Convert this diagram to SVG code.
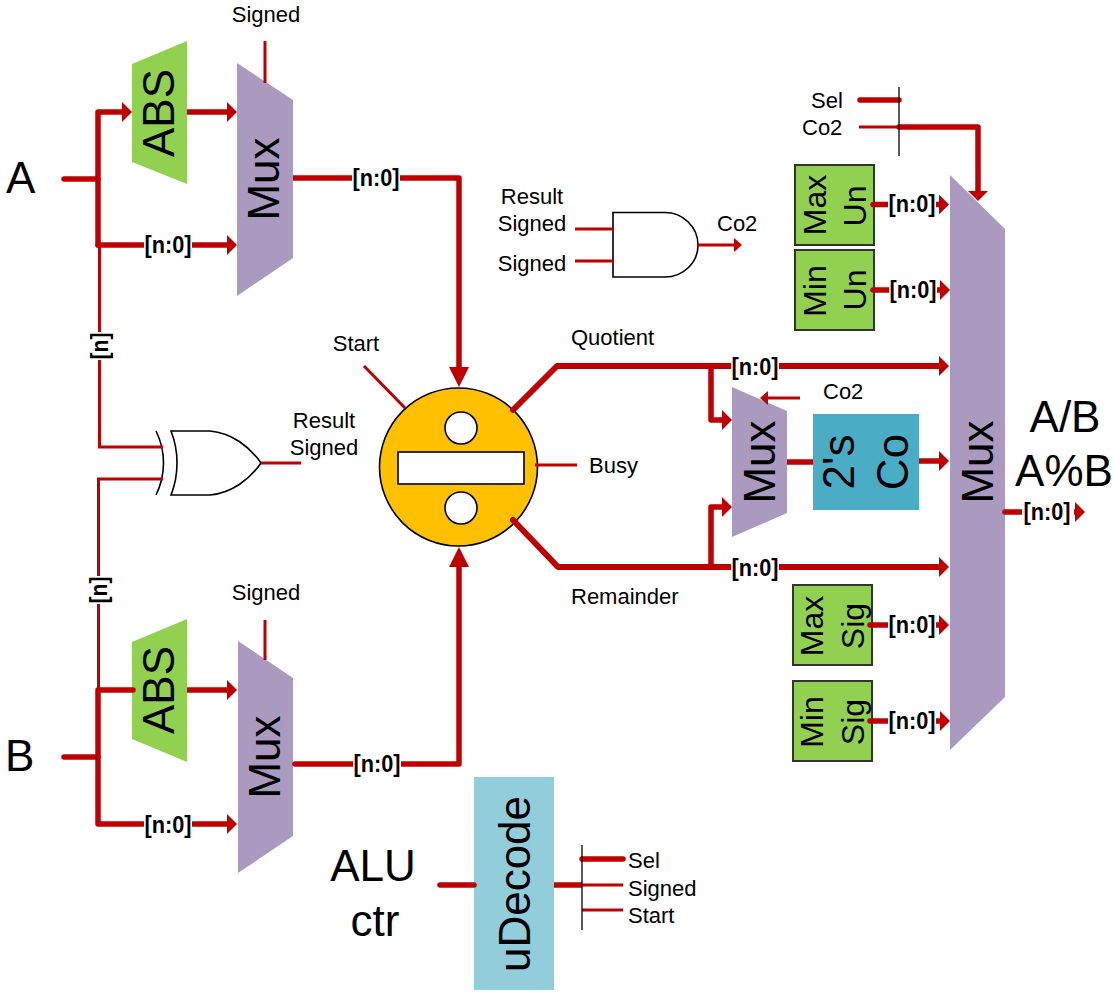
<svg xmlns="http://www.w3.org/2000/svg" width="1113" height="992" viewBox="0 0 1113 992">
<style>
text{font-family:"Liberation Sans",Arial,sans-serif;fill:#000}
.s{font-size:22px}.b{font-size:44px}.c{font-size:32px}
.mid{text-anchor:middle}
.l{font-size:23px;font-weight:bold;text-anchor:middle}
.w{fill:#fff}
.mux{fill:#AB9AC0}.abs{fill:#92D14F}.box{fill:#92D050;stroke:#333;stroke-width:2}
.gate{fill:#fff;stroke:#000;stroke-width:1.6}
.t5{fill:none;stroke:#C00000;stroke-width:5.500;stroke-linejoin:round;stroke-linecap:round}
.t6{fill:none;stroke:#C00000;stroke-width:6;stroke-linejoin:round;stroke-linecap:round}
.t3{fill:none;stroke:#C00000;stroke-width:3;stroke-linejoin:miter}
.bar{fill:none;stroke:#000;stroke-width:1.3}
</style>
<defs>
<marker id="big" markerUnits="userSpaceOnUse" markerWidth="11" markerHeight="20" refX="3" refY="10" orient="auto"><path d="M0,0L10,10L0,20Z" fill="#C00000"/></marker>
<marker id="long" markerUnits="userSpaceOnUse" markerWidth="21" markerHeight="20" refX="3" refY="10" orient="auto"><path d="M0,0L20,10L0,20Z" fill="#C00000"/></marker>
<marker id="small" markerUnits="userSpaceOnUse" markerWidth="9" markerHeight="14" refX="3" refY="7" orient="auto"><path d="M0,0L8,7L0,14Z" fill="#C00000"/></marker>
</defs>

<g id="node-abs-a"><polygon class="abs" points="132,64 187,41 187,184 132,162"/><text class="b mid" transform="translate(174,113) rotate(-90)">ABS</text></g>
<g id="node-mux-a"><polygon class="mux" points="237,63 293,100 293,258 237,296"/><text class="b mid" transform="translate(279,179) rotate(-90)">Mux</text></g>
<g id="node-abs-b"><polygon class="abs" points="132,642 187,619 187,762 132,739"/><text class="b mid" transform="translate(174,690) rotate(-90)">ABS</text></g>
<g id="node-mux-b"><polygon class="mux" points="238,641 293,678 293,836 238,873"/><text class="b mid" transform="translate(280,757) rotate(-90)">Mux</text></g>
<g id="node-xor"><path class="gate" d="M171,431H210C232,433 250,447 261,463C250,479 232,493 210,495H171C179,475 179,451 171,431Z"/><path class="gate" style="fill:none" d="M156,431C166,451 166,475 156,495"/></g>
<g id="node-divider"><circle cx="458.500" cy="467" r="79" fill="#FFC000" stroke="#000" stroke-width="1.6"/><circle cx="461" cy="428" r="16" class="gate"/><circle cx="461" cy="508" r="16" class="gate"/><rect x="398" y="452" width="126" height="32" class="gate"/></g>
<g id="node-and"><path class="gate" d="M613,212.500H665C683,212.500 698,227 698,245C698,263 683,277 665,277H613Z"/></g>
<g id="node-mux-small"><polygon class="mux" points="732,387 787,411 787,513 732,537"/><text class="b mid" transform="translate(775,462) rotate(-90)">Mux</text></g>
<g id="node-twos"><rect x="813" y="414" width="106" height="96" fill="#4BACC6"/><text class="b mid" transform="translate(854,462) rotate(-90)">2's</text><text class="b mid" transform="translate(908,462) rotate(-90)">Co</text></g>
<g id="node-mux-out"><polygon class="mux" points="950,175 1005,229 1005,697 950,750"/><text class="b mid" transform="translate(993,462) rotate(-90)">Mux</text></g>
<g id="node-max-un"><rect class="box" x="795" y="165" width="79" height="80"/><text class="c mid" transform="translate(826,205) rotate(-90)">Max</text><text class="c mid" transform="translate(866,206) rotate(-90)">Un</text></g>
<g id="node-min-un"><rect class="box" x="795" y="250" width="79" height="80"/><text class="c mid" transform="translate(826,291) rotate(-90)">Min</text><text class="c mid" transform="translate(866,290) rotate(-90)">Un</text></g>
<g id="node-max-sig"><rect class="box" x="793" y="585" width="79" height="80"/><text class="c mid" transform="translate(823,626) rotate(-90)">Max</text><text class="c mid" transform="translate(864,626) rotate(-90)">Sig</text></g>
<g id="node-min-sig"><rect class="box" x="793" y="681" width="79" height="80"/><text class="c mid" transform="translate(823,722) rotate(-90)">Min</text><text class="c mid" transform="translate(864,722) rotate(-90)">Sig</text></g>
<g id="node-udecode"><rect x="474" y="777" width="80" height="213" fill="#92CDDC"/><text class="b mid" transform="translate(530,884) rotate(-90)">uDecode</text></g>

<g id="connectors">
<path class="t5" d="M64,179H98"/>
<path class="t5" d="M98,245V112H125" marker-end="url(#big)"/>
<path class="t5" d="M187,112H230" marker-end="url(#big)" style="stroke-linecap:butt"/>
<path class="t5" d="M98,245H230" marker-end="url(#big)"/>
<path class="t5" d="M293,178H459V370" marker-end="url(#long)" style="stroke-linecap:butt"/>
<path class="t3" d="M99.500,245V447H163"/>
<path class="t3" d="M163,479H98.500V690"/>
<path class="t3" d="M261,463H301"/>
<path class="t3" d="M265,41V83"/>
<path class="t3" d="M265,620V660"/>
<path class="t3" d="M364,366L405,408"/>
<path class="t3" d="M535,465H577"/>
<path class="t5" d="M64,757H98"/>
<path class="t5" d="M133,690H98V824H230" marker-end="url(#big)"/>
<path class="t5" d="M187,690H230" marker-end="url(#big)" style="stroke-linecap:butt"/>
<path class="t5" d="M295,764H459V564" marker-end="url(#long)"/>
<path class="t6" d="M513,410L557,366H942" marker-end="url(#big)"/>
<path class="t5" d="M711,366V420H725" marker-end="url(#big)"/>
<path class="t6" d="M513,520L558,567H942" marker-end="url(#big)"/>
<path class="t5" d="M711,567V507H725" marker-end="url(#big)"/>
<path class="t3" d="M800,398H765" marker-end="url(#small)"/>
<path class="t5" d="M787,462H813" style="stroke-linecap:butt"/>
<path class="t5" d="M919,461H942" marker-end="url(#big)" style="stroke-linecap:butt"/>
<path class="t5" d="M1005,512H1078" marker-end="url(#big)"/>
<path class="t3" d="M575,229H613"/>
<path class="t3" d="M575,261H613"/>
<path class="t3" d="M698,245H737" marker-end="url(#small)"/>
<path class="t5" d="M860,100H899"/>
<path class="t3" d="M859,127H899"/>
<path class="t5" d="M899,127H978V194" marker-end="url(#big)"/>
<path class="bar" d="M899,87V156"/>
<path class="t5" d="M873,204.500H942" marker-end="url(#big)"/>
<path class="t5" d="M873,290H943" marker-end="url(#big)"/>
<path class="t5" d="M870,625H942" marker-end="url(#big)"/>
<path class="t5" d="M870,721H943" marker-end="url(#big)"/>
<path class="t5" d="M440,885H474"/>
<path class="t5" d="M554,885H582" style="stroke-linecap:butt"/>
<path class="t5" d="M582,859H623"/>
<path class="t3" d="M582,885H623"/>
<path class="t3" d="M582,910H623"/>
<path class="bar" d="M582,845V930"/>
</g>

<g id="bus-labels">
<rect class="w" x="144" y="234" width="48" height="22"/><text class="l" x="168" y="253" textLength="47" lengthAdjust="spacingAndGlyphs">[n:0]</text>
<rect class="w" x="352" y="167" width="48" height="22"/><text class="l" x="376" y="186" textLength="47" lengthAdjust="spacingAndGlyphs">[n:0]</text>
<rect class="w" x="144" y="814" width="48" height="22"/><text class="l" x="168" y="833" textLength="47" lengthAdjust="spacingAndGlyphs">[n:0]</text>
<rect class="w" x="353" y="753" width="48" height="22"/><text class="l" x="377" y="772" textLength="47" lengthAdjust="spacingAndGlyphs">[n:0]</text>
<rect class="w" x="731" y="356" width="48" height="22"/><text class="l" x="755" y="375" textLength="47" lengthAdjust="spacingAndGlyphs">[n:0]</text>
<rect class="w" x="731" y="557" width="48" height="22"/><text class="l" x="755" y="576" textLength="47" lengthAdjust="spacingAndGlyphs">[n:0]</text>
<rect class="w" x="888" y="194" width="48" height="22"/><text class="l" x="912" y="212" textLength="47" lengthAdjust="spacingAndGlyphs">[n:0]</text>
<rect class="w" x="889" y="279" width="48" height="22"/><text class="l" x="913" y="298" textLength="47" lengthAdjust="spacingAndGlyphs">[n:0]</text>
<rect class="w" x="888" y="614" width="48" height="22"/><text class="l" x="912" y="633" textLength="47" lengthAdjust="spacingAndGlyphs">[n:0]</text>
<rect class="w" x="888" y="710" width="48" height="22"/><text class="l" x="912" y="729" textLength="47" lengthAdjust="spacingAndGlyphs">[n:0]</text>
<rect class="w" x="1022" y="502" width="52" height="22"/><text class="l" x="1047" y="520" textLength="47" lengthAdjust="spacingAndGlyphs">[n:0]</text>
<rect class="w" x="89" y="332" width="22" height="28"/><text class="l" transform="translate(108,346) rotate(-90)" textLength="27" lengthAdjust="spacingAndGlyphs">[n]</text>
<rect class="w" x="88" y="576" width="22" height="28"/><text class="l" transform="translate(107,590) rotate(-90)" textLength="27" lengthAdjust="spacingAndGlyphs">[n]</text>
</g>

<g id="labels">
<text class="b" x="6" y="193">A</text>
<text class="b" x="5" y="771">B</text>
<text class="s mid" x="266" y="22">Signed</text>
<text class="s mid" x="266" y="600">Signed</text>
<text class="s mid" x="356" y="351">Start</text>
<text class="s mid" x="324" y="428">Result</text>
<text class="s mid" x="324" y="455">Signed</text>
<text class="s" x="589" y="473">Busy</text>
<text class="s" x="571" y="345">Quotient</text>
<text class="s" x="571" y="604">Remainder</text>
<text class="s" x="823" y="399">Co2</text>
<text class="s mid" x="532" y="204">Result</text>
<text class="s mid" x="532" y="231">Signed</text>
<text class="s mid" x="532" y="271">Signed</text>
<text class="s" x="717" y="231">Co2</text>
<text class="s" x="811" y="108">Sel</text>
<text class="s" x="802" y="135">Co2</text>
<text class="b mid" x="1065" y="432">A/B</text>
<text class="b mid" x="1064" y="486">A%B</text>
<text class="b mid" x="373" y="881">ALU</text>
<text class="b mid" x="375" y="936">ctr</text>
<text class="s" x="628" y="868">Sel</text>
<text class="s" x="628" y="896">Signed</text>
<text class="s" x="628" y="923">Start</text>
</g>
</svg>
